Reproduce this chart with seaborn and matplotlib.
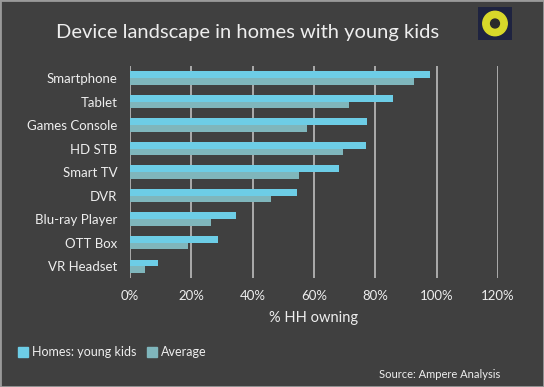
import pandas as pd
import matplotlib.pyplot as plt
import matplotlib.patches as mpatches
import seaborn as sns

# datos
devices = ["Smartphone", "Tablet", "Games Console", "HD STB", "Smart TV",
           "DVR", "Blu-ray Player", "OTT Box", "VR Headset"]
young_kids = [0.978, 0.859, 0.774, 0.770, 0.682, 0.545, 0.346, 0.287, 0.092]
average = [0.926, 0.714, 0.578, 0.693, 0.552, 0.459, 0.263, 0.190, 0.049]
series_names = ["Homes: young kids", "Average"]
ticks = [0, 0.2, 0.4, 0.6, 0.8, 1.0, 1.2]

df = pd.DataFrame({
    "device": devices * 2,
    "value": young_kids + average,
    "serie": [series_names[0]] * len(devices) + [series_names[1]] * len(devices),
})

bg = "#404040"
txt = "#EEEEEE"
colors = {"Homes: young kids": "#6DCDE6", "Average": "#7FB6BC"}

sns.set_theme(style="dark")
plt.rcParams["font.family"] = ["Lato", "DejaVu Sans"]

fig = plt.figure(figsize=(5.44, 3.87), dpi=100, facecolor=bg)
ax = fig.add_axes([0.239, 0.2817, 0.6765, 0.547])
ax.set_facecolor(bg)

sns.barplot(data=df, x="value", y="device", hue="serie", palette=colors,
            orient="h", width=0.57, saturation=1, linewidth=0, ax=ax, legend=False)

ax.set_xlim(0, 1.2)
ax.set_ylim(len(devices) - 0.5, -0.5)
ax.set_xticks(ticks)
ax.set_xticklabels([f"{int(round(t * 100))}%" for t in ticks])
ax.grid(axis="x", color="#BDBDBD", linewidth=1.2)
ax.grid(axis="y", visible=False)
ax.set_axisbelow(True)
for s in ax.spines.values():
    s.set_visible(False)
ax.tick_params(axis="y", colors=txt, labelsize=9.5, pad=9, length=0)
ax.tick_params(axis="x", colors=txt, labelsize=9.5, pad=9, length=0)
ax.set_ylabel("")
ax.set_xlabel("% HH owning", color=txt, fontsize=10.5, labelpad=6)

# titulo
fig.text(0.455, 0.915, "Device landscape in homes with young kids", color=txt,
         fontsize=14.5, ha="center", va="center")

# leyenda
handles = [mpatches.Patch(color=colors[n], label=n) for n in series_names]
fig.legend(handles=handles, loc="center left", bbox_to_anchor=(0.012, 0.09),
           frameon=False, fontsize=9, labelcolor=txt, ncol=2,
           handlelength=0.8, handleheight=0.8, handletextpad=0.3, columnspacing=0.9)

fig.text(0.92, 0.033, "Source: Ampere Analysis", color=txt, fontsize=8,
         ha="right", va="center")

# logo
lax = fig.add_axes([478 / 544, 1 - 40 / 387, 34 / 544, 33 / 387])
lax.set_facecolor("#1E2340")
lax.set_xlim(0, 1)
lax.set_ylim(0, 1)
lax.set_xticks([])
lax.set_yticks([])
for s in lax.spines.values():
    s.set_visible(False)
lax.add_patch(mpatches.Ellipse((0.5, 0.5), 0.72, 0.74, color="#D8D82A"))
lax.add_patch(mpatches.Ellipse((0.5, 0.5), 0.26, 0.27, color="#2A2A2A"))

# borde
fig.patches.append(mpatches.Rectangle((0, 0), 1, 1, transform=fig.transFigure,
                                      fill=False, edgecolor="#9A9A9A", linewidth=2))

fig.savefig("out.png", dpi=100, facecolor=bg)
